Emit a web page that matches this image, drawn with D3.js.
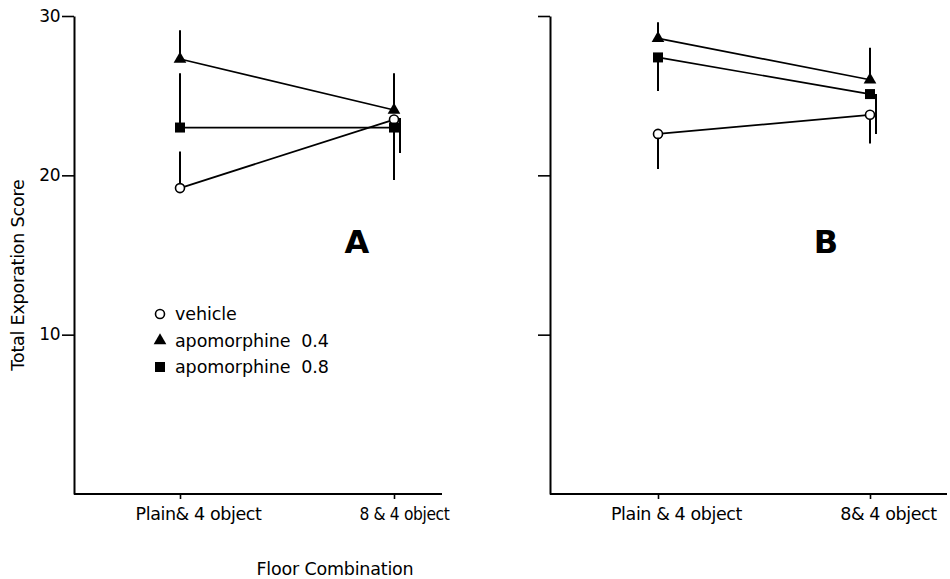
<!DOCTYPE html>
<html><head><meta charset="utf-8">
<script src="https://cdn.jsdelivr.net/npm/d3@7"></script>
<style>
body{margin:0;background:#fff;}
svg{display:block;}
text{font-family:"DejaVu Sans",sans-serif;fill:#000;}
</style></head>
<body>
<svg id="c" width="950" height="579"></svg>
<script>
// ---- data ----
const categories = ["Plain & 4 object", "8 & 4 object"];
const tickLabelsA = ["Plain& 4 object", "8 & 4 object"];
const tickLabelsB = ["Plain & 4 object", "8& 4 object"];
const yTicks = [10, 20, 30];
const seriesNames = ["vehicle", "apomorphine  0.4", "apomorphine  0.8"];

// panel A means and error bar extents [lo, hi]
const vehicleA = [19.2, 23.5];
const vehicleAErr = [[19.2, 21.5], [19.7, 23.5]];
const apo04A = [27.3, 24.1];
const apo04AErr = [[27.3, 29.1], [24.1, 26.4]];
const apo08A = [23.0, 23.0];
const apo08AErr = [[23.0, 26.4], [21.4, 23.6]];

// panel B
const vehicleB = [22.6, 23.8];
const vehicleBErr = [[20.4, 22.6], [22.0, 23.8]];
const apo04B = [28.6, 26.0];
const apo04BErr = [[28.6, 29.6], [26.0, 28.0]];
const apo08B = [27.4, 25.1];
const apo08BErr = [[25.3, 27.4], [22.6, 25.1]];

// ---- drawing ----
const svg = d3.select("#c");
const y = d3.scaleLinear().domain([0, 30]).range([494, 16]);

const panels = [
  {letter: "A", axisX: 74, xEnd: 442, range: [180, 394], labels: tickLabelsA, showY: true, letterX: 357,
   labelWidths: [null, 90],
   series: [
     {name: seriesNames[0], vals: vehicleA, err: vehicleAErr, sym: "circle"},
     {name: seriesNames[1], vals: apo04A, err: apo04AErr, sym: "triangle"},
     {name: seriesNames[2], vals: apo08A, err: apo08AErr, sym: "square"}]},
  {letter: "B", axisX: 550, xEnd: 947, range: [658, 870], labels: tickLabelsB, showY: false, letterX: 826,
   labelWidths: [null, null],
   series: [
     {name: seriesNames[0], vals: vehicleB, err: vehicleBErr, sym: "circle"},
     {name: seriesNames[1], vals: apo04B, err: apo04BErr, sym: "triangle"},
     {name: seriesNames[2], vals: apo08B, err: apo08BErr, sym: "square"}]}
];

function drawSymbol(g, sym, cx, cy) {
  if (sym === "circle") {
    g.append("circle").attr("cx", cx).attr("cy", cy).attr("r", 4.5)
      .attr("fill", "#fff").attr("stroke", "#000").attr("stroke-width", 1.6);
  } else if (sym === "triangle") {
    g.append("path").attr("d", d3.symbol(d3.symbolTriangle, 70)())
      .attr("transform", `translate(${cx},${cy})`).attr("fill", "#000");
  } else {
    g.append("rect").attr("x", cx - 5).attr("y", cy - 5).attr("width", 10).attr("height", 10)
      .attr("fill", "#000");
  }
}

panels.forEach(p => {
  const x = d3.scalePoint().domain(categories).range(p.range);
  const g = svg.append("g");

  // y axis
  const ya = d3.axisLeft(y).tickValues(yTicks).tickSize(12).tickSizeOuter(0)
    .tickFormat(p.showY ? d3.format("d") : () => "");
  const yg = g.append("g").attr("transform", `translate(${p.axisX},0)`).call(ya);
  yg.select(".domain").attr("stroke-width", 2);
  yg.selectAll(".tick line").attr("stroke-width", 1.6);
  yg.selectAll("text").attr("font-size", 17).attr("dx", 1).attr("dy", "0.3em")
    .style("font-family", "DejaVu Sans, sans-serif").attr("letter-spacing", -0.5);

  // x axis baseline
  g.append("line").attr("x1", p.axisX).attr("x2", p.xEnd).attr("y1", y(0)).attr("y2", y(0))
    .attr("stroke", "#000").attr("stroke-width", 2.2);
  const xa = d3.axisBottom(x).tickSize(5).tickSizeOuter(0).tickFormat((d, i) => p.labels[i]);
  const xg = g.append("g").attr("transform", `translate(0,${y(0)})`).call(xa);
  xg.select(".domain").remove();
  xg.selectAll(".tick line").attr("stroke-width", 1.6);
  xg.selectAll("text").attr("font-size", 17.5).attr("dy", "1.0em").attr("dx", 18)
    .style("font-family", "DejaVu Sans, sans-serif").attr("letter-spacing", -0.4)
    .each(function(d, i) {
      if (p.labelWidths[i]) {
        d3.select(this).attr("textLength", p.labelWidths[i]).attr("lengthAdjust", "spacingAndGlyphs")
          .attr("dx", 10);
      }
    });

  // series
  p.series.forEach((s, si) => {
    s.err.forEach((e, i) => {
      const nudge = (si === 2 && i === 1) ? 6 : 0;
      g.append("line").attr("x1", x(categories[i]) + nudge).attr("x2", x(categories[i]) + nudge)
        .attr("y1", y(e[0])).attr("y2", y(e[1])).attr("stroke", "#000").attr("stroke-width", 2);
    });
    const line = d3.line().x((d, i) => x(categories[i])).y(d => y(d));
    g.append("path").datum(s.vals).attr("d", line).attr("fill", "none")
      .attr("stroke", "#000").attr("stroke-width", 1.7);
    s.vals.forEach((v, i) => drawSymbol(g, s.sym, x(categories[i]), y(v)));
  });

  // panel letter
  g.append("text").attr("x", p.letterX).attr("y", 253).attr("text-anchor", "middle")
    .attr("font-size", 32).attr("font-weight", "bold").text(p.letter);
});

// legend
const legend = svg.append("g");
const legendSyms = ["circle", "triangle", "square"];
const legendY = d3.scalePoint().domain(seriesNames).range([314, 367]);
seriesNames.forEach((n, i) => {
  drawSymbol(legend, legendSyms[i], 160, legendY(n));
  legend.append("text").attr("x", 175).attr("y", legendY(n)).attr("dy", "0.35em")
    .attr("font-size", 17.5).attr("letter-spacing", -0.1)
    .style("white-space", "pre").attr("xml:space", "preserve").text(n);
});

// axis titles
svg.append("text").attr("transform", "translate(24,275) rotate(-90)").attr("text-anchor", "middle")
  .attr("font-size", 17.5).attr("letter-spacing", -0.2).text("Total Exporation Score");
svg.append("text").attr("x", 335).attr("y", 575).attr("text-anchor", "middle")
  .attr("font-size", 17.5).attr("letter-spacing", -0.2).text("Floor Combination");
</script>
</body></html>
